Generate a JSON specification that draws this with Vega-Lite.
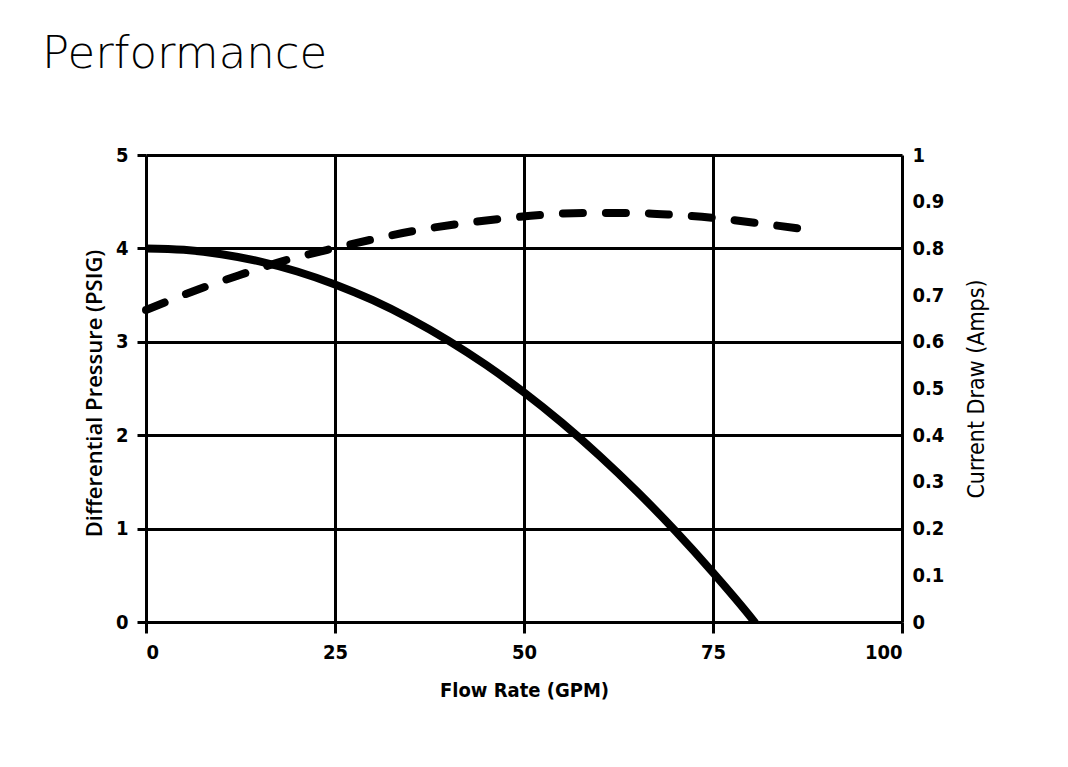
{
  "$schema": "https://vega.github.io/schema/vega-lite/v6.json",
  "width": 756,
  "height": 467,
  "autosize": {"type": "none"},
  "padding": {"left": 146, "top": 155, "right": 166, "bottom": 145},
  "background": "white",
  "title": {
    "text": "Performance",
    "anchor": "start",
    "frame": "group",
    "dx": -104,
    "offset": 68,
    "font": "DejaVu Sans",
    "fontWeight": 200,
    "fontSize": 45,
    "color": "#000000"
  },
  "config": {
    "view": {"stroke": null},
    "axis": {
      "labelFont": "DejaVu Sans Condensed",
      "labelFontWeight": "bold",
      "labelFontSize": 20,
      "labelColor": "#000000",
      "titleFont": "DejaVu Sans Condensed",
      "titleFontSize": 20,
      "titleColor": "#000000",
      "domain": false,
      "gridColor": "#000000",
      "gridWidth": 3,
      "gridOpacity": 1,
      "tickColor": "#000000",
      "tickWidth": 3
    }
  },
  "datasets": {
    "pressure": [
      {"flow": 0, "pressure": 4.0},
      {"flow": 5, "pressure": 3.985},
      {"flow": 10, "pressure": 3.938},
      {"flow": 15, "pressure": 3.861},
      {"flow": 20, "pressure": 3.753},
      {"flow": 25, "pressure": 3.614},
      {"flow": 30, "pressure": 3.445},
      {"flow": 35, "pressure": 3.244},
      {"flow": 40, "pressure": 3.013},
      {"flow": 45, "pressure": 2.751},
      {"flow": 50, "pressure": 2.458},
      {"flow": 55, "pressure": 2.134},
      {"flow": 60, "pressure": 1.779},
      {"flow": 65, "pressure": 1.393},
      {"flow": 70, "pressure": 0.977},
      {"flow": 75, "pressure": 0.529},
      {"flow": 80, "pressure": 0.051},
      {"flow": 80.5, "pressure": 0.0}
    ],
    "current": [
      {"flow": 0, "current": 0.668},
      {"flow": 6.7, "current": 0.711},
      {"flow": 12.4, "current": 0.743},
      {"flow": 18.1, "current": 0.773},
      {"flow": 24, "current": 0.797},
      {"flow": 29.6, "current": 0.818},
      {"flow": 35.3, "current": 0.837},
      {"flow": 41.1, "current": 0.852},
      {"flow": 46.8, "current": 0.863},
      {"flow": 52.5, "current": 0.872},
      {"flow": 58.3, "current": 0.876},
      {"flow": 64, "current": 0.876},
      {"flow": 69.7, "current": 0.872},
      {"flow": 75.3, "current": 0.865},
      {"flow": 81, "current": 0.854},
      {"flow": 87.5, "current": 0.84}
    ]
  },
  "layer": [
    {
      "data": {"name": "pressure"},
      "mark": {"type": "line", "color": "#000000", "strokeWidth": 8, "strokeCap": "round", "interpolate": "monotone", "clip": true},
      "encoding": {
        "x": {
          "field": "flow", "type": "quantitative",
          "scale": {"domain": [0, 100], "nice": false},
          "axis": {"values": [0, 25, 50, 75, 100], "title": "Flow Rate (GPM)", "titleFontWeight": "bold", "titleFontSize": 20, "tickSize": 11, "labelPadding": 9, "titlePadding": 18, "grid": true}
        },
        "y": {
          "field": "pressure", "type": "quantitative",
          "scale": {"domain": [0, 5], "nice": false},
          "axis": {"values": [0, 1, 2, 3, 4, 5], "orient": "left", "title": "Differential Pressure (PSIG)", "titleFont": "Open Sans", "titleFontWeight": 600, "titleFontSize": 22, "titleY": 238, "tickSize": 9, "labelPadding": 9, "titlePadding": 9, "grid": true}
        }
      }
    },
    {
      "data": {"name": "current"},
      "mark": {"type": "line", "color": "#000000", "strokeWidth": 8, "strokeCap": "round", "strokeDash": [20, 23], "interpolate": "monotone"},
      "encoding": {
        "x": {"field": "flow", "type": "quantitative", "scale": {"domain": [0, 100], "nice": false}},
        "y": {
          "field": "current", "type": "quantitative",
          "scale": {"domain": [0, 1], "nice": false},
          "axis": {"values": [0, 0.1, 0.2, 0.3, 0.4, 0.5, 0.6, 0.7, 0.8, 0.9, 1], "format": "~g", "orient": "right", "title": "Current Draw (Amps)", "titleAngle": 270, "titleBaseline": "top", "titleFontWeight": 500, "titleFontSize": 23, "ticks": false, "labelPadding": 10, "titlePadding": 22, "grid": false}
        }
      }
    }
  ],
  "resolve": {"scale": {"y": "independent"}}
}
